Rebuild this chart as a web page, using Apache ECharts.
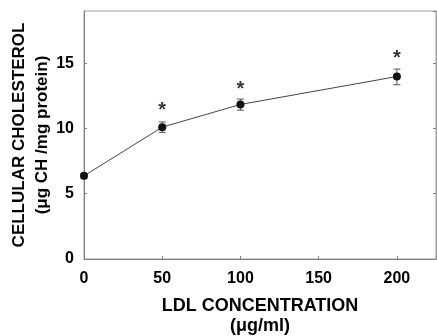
<!DOCTYPE html>
<html>
<head>
<meta charset="utf-8">
<script src="https://cdn.jsdelivr.net/npm/echarts@6/dist/echarts.min.js"></script>
<style>
  html, body { margin: 0; padding: 0; background: #fff; }
  #chart { width: 437px; height: 336px; }
</style>
</head>
<body>
<div id="chart"></div>
<script>
// LDL concentration vs cellular cholesterol
const ldl = [0, 50, 100, 200]
const cholesterol = [6.37, 10.1, 11.84, 13.98]
const errLow = [6.15, 9.7, 11.4, 13.35]
const errHigh = [6.55, 10.5, 12.25, 14.55]
const starLevel = [null, 11.65, 13.3, 15.65]
const xTicks = [0, 50, 100, 150, 200]
const yTicks = [0, 5, 10, 15]

const font = 'Liberation Sans, Arial, sans-serif'
const axisGray = '#808080'

const chart = echarts.init(document.getElementById('chart'))

const lineData = ldl.map((x, i) => [x, cholesterol[i]])
const errData = ldl.map((x, i) => [x, errLow[i], errHigh[i]])
const starData = ldl.map((x, i) => [x, starLevel[i]]).filter(d => d[1] !== null)

const option = {
    backgroundColor: '#fff',
    animation: false,
    grid: {
        left: 84,
        right: 1,
        top: 11,
        bottom: 77,
        outerBoundsMode: 'none',
        containLabel: false,
        show: true,
        borderColor: '#a0a0a0',
        borderWidth: 1
    },
    xAxis: {
        type: 'value',
        min: 0,
        max: 225,
        interval: 50,
        name: 'LDL CONCENTRATION\n(μg/ml)',
        nameLocation: 'middle',
        nameGap: 37,
        nameTextStyle: {
            fontFamily: font,
            fontWeight: 'bold',
            fontSize: 18,
            color: '#000',
            lineHeight: 20
        },
        axisLine: { lineStyle: { color: axisGray, width: 1 } },
        axisTick: { inside: true, length: 3, lineStyle: { color: axisGray } },
        axisLabel: {
            fontFamily: font,
            fontWeight: 'bold',
            fontSize: 16,
            color: '#000',
            margin: 12,
            formatter: v => (xTicks.includes(v) ? String(v) : '')
        },
        splitLine: { show: false }
    },
    yAxis: [{
        type: 'value',
        min: 0,
        max: 19,
        interval: 5,
        name: 'CELLULAR CHOLESTEROL\n(μg CH /mg protein)',
        nameLocation: 'middle',
        nameRotate: 90,
        nameGap: 30,
        nameMoveOverlap: false,
        nameTextStyle: {
            fontFamily: font,
            fontWeight: 'bold',
            fontSize: 17,
            color: '#000',
            lineHeight: 23
        },
        axisLine: { show: true, lineStyle: { color: axisGray, width: 1 } },
        axisTick: { show: true, inside: true, length: 3, lineStyle: { color: axisGray } },
        axisLabel: {
            fontFamily: font,
            fontWeight: 'bold',
            fontSize: 16,
            color: '#000',
            margin: 10,
            showMaxLabel: false,
            formatter: v => (yTicks.includes(v) ? String(v) : '')
        },
        splitLine: { show: false }
    }, {
        type: 'value',
        position: 'right',
        min: 0,
        max: 19,
        interval: 5,
        axisLine: { show: true, lineStyle: { color: '#a0a0a0', width: 1 } },
        axisTick: { show: true, inside: true, length: 3, lineStyle: { color: axisGray } },
        axisLabel: { show: false },
        splitLine: { show: false }
    }],
    series: [{
        type: 'line',
        data: lineData,
        symbol: 'circle',
        symbolSize: 8,
        itemStyle: { color: '#111' },
        lineStyle: { color: '#444', width: 1 },
        z: 3
    }, {
        type: 'custom',
        data: errData,
        z: 2,
        renderItem: (params, api) => {
            const x = api.value(0)
            const lo = api.coord([x, api.value(1)])
            const hi = api.coord([x, api.value(2)])
            const cap = 3.5
            const style = { stroke: '#555', lineWidth: 1 }
            return {
                type: 'group',
                children: [
                    { type: 'line', shape: { x1: lo[0], y1: lo[1], x2: hi[0], y2: hi[1] }, style },
                    { type: 'line', shape: { x1: lo[0] - cap, y1: lo[1], x2: lo[0] + cap, y2: lo[1] }, style },
                    { type: 'line', shape: { x1: hi[0] - cap, y1: hi[1], x2: hi[0] + cap, y2: hi[1] }, style }
                ]
            }
        }
    }, {
        type: 'scatter',
        data: starData,
        symbolSize: 0,
        label: {
            show: true,
            position: 'inside',
            formatter: '*',
            fontFamily: font,
            fontWeight: 'bold',
            fontSize: 20,
            color: '#000',
            offset: [0, 4]
        }
    }]
}

chart.setOption(option)
</script>
</body>
</html>
